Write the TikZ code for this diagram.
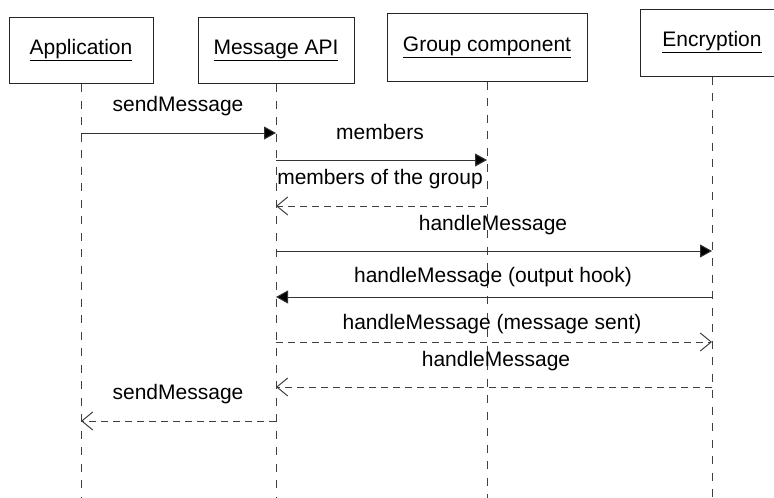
\documentclass[tikz,border=0pt]{standalone}
\usepackage{fontspec}
\setmainfont{Liberation Sans}
\usetikzlibrary{arrows.meta}
\begin{document}
\begin{tikzpicture}[x=1pt,y=-1pt,
  font=\fontsize{21}{24}\selectfont,
  objbox/.style={draw=black!85, line width=1pt, fill=white, inner sep=0pt, minimum height=66pt},
  lifeline/.style={draw=black!75, line width=1pt, dash pattern=on 8pt off 8.5pt},
  syncmsg/.style={draw=black!80, line width=1pt, -{Triangle[length=12pt,width=13pt,fill=black]}},
  retmsg/.style={draw=black!75, line width=1pt, dash pattern=on 7pt off 5pt, -{Straight Barb[length=11pt,width=18pt,line width=1pt]}},
  msglabel/.style={anchor=base, inner sep=0pt, text=black}
]
\useasboundingbox (0,0) rectangle (774,498);
\begin{scope}
\clip (0,0) rectangle (774,498);
\coordinate (endA) at (81,498);
\coordinate (endB) at (276,498);
\coordinate (endC) at (487,498);
\coordinate (endD) at (712,498);
\node[objbox, minimum width=144pt] (app) at (81,50.5) {\underline{Application}};
\node[objbox, minimum width=156pt] (api) at (276,50.5) {\underline{Message API}};
\node[objbox, minimum width=200pt, minimum height=68pt] (grp) at (487,47) {\underline{Group component}};
\node[objbox, minimum width=144pt, minimum height=67pt] (enc) at (712,42.5) {\underline{Encryption}};
\draw[lifeline] (app.south) -- (endA);
\draw[lifeline] (api.south) -- (endB);
\draw[lifeline] (grp.south) -- (endC);
\draw[lifeline] (enc.south) -- (endD);
\end{scope}
\coordinate (a1) at (81,133);  \coordinate (b1) at (276,133);
\coordinate (b2) at (276,160); \coordinate (c2) at (487,160);
\coordinate (c3) at (487,206); \coordinate (b3) at (276,206);
\coordinate (b4) at (276,251); \coordinate (d4) at (712,251);
\coordinate (d5) at (712,297); \coordinate (b5) at (276,297);
\coordinate (b6) at (276,342); \coordinate (d6) at (712,342);
\coordinate (d7) at (712,387); \coordinate (b7) at (276,387);
\coordinate (b8) at (276,421); \coordinate (a8) at (81,421);
\draw[syncmsg] (a1) -- (b1);
\draw[syncmsg] (b2) -- (c2);
\draw[retmsg] (c3) -- (b3);
\draw[syncmsg] (b4) -- (d4);
\draw[syncmsg] (d5) -- (b5);
\draw[retmsg] (b6) -- (d6);
\draw[retmsg] (d7) -- (b7);
\draw[retmsg] (b8) -- (a8);
\node[msglabel] (l1) at (178,111) {sendMessage};
\node[msglabel] (l2) at (380,139) {members};
\node[msglabel] (l3) at (380,184) {members of the group};
\node[msglabel] (l4) at (493,230) {handleMessage};
\node[msglabel] (l5) at (493,282) {handleMessage (output hook)};
\node[msglabel] (l6) at (492,329) {handleMessage (message sent)};
\node[msglabel] (l7) at (496,366) {handleMessage};
\node[msglabel] (l8) at (178,399) {sendMessage};
\end{tikzpicture}
\end{document}
